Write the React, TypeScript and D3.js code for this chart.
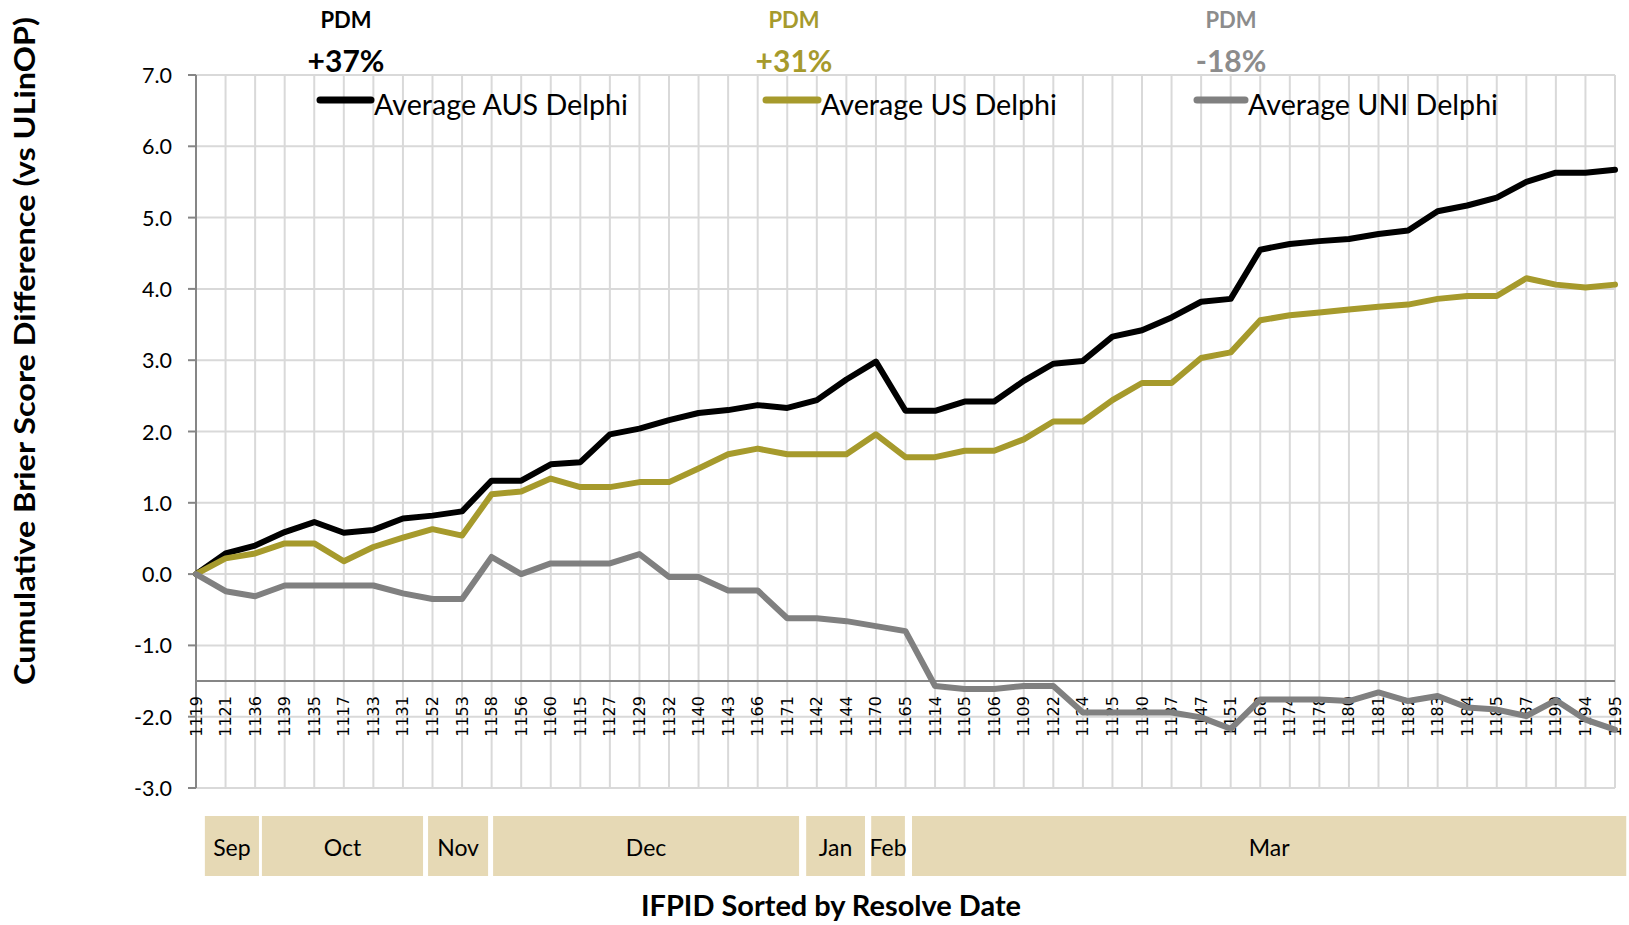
import React from "react";
import * as d3 from "d3";

const categories = ["1119","1121","1136","1139","1135","1117","1133","1131","1152","1153","1158","1156","1160","1115","1127","1129","1132","1140","1143","1166","1171","1142","1144","1170","1165","1114","1105","1106","1109","1122","1124","1125","1130","1137","1147","1151","1168","1174","1178","1180","1181","1182","1183","1184","1185","1187","1190","1194","1195"];

const ausValues = [0, 0.29, 0.40, 0.59, 0.73, 0.58, 0.62, 0.78, 0.82, 0.88, 1.31, 1.31, 1.54, 1.57, 1.96, 2.04, 2.16, 2.26, 2.30, 2.37, 2.33, 2.44, 2.73, 2.98, 2.29, 2.29, 2.42, 2.42, 2.71, 2.95, 2.99, 3.33, 3.42, 3.60, 3.82, 3.86, 4.55, 4.63, 4.67, 4.70, 4.77, 4.82, 5.09, 5.17, 5.28, 5.50, 5.63, 5.63, 5.67];
const usValues = [0, 0.22, 0.29, 0.43, 0.43, 0.18, 0.38, 0.51, 0.63, 0.54, 1.12, 1.16, 1.34, 1.22, 1.22, 1.29, 1.29, 1.48, 1.68, 1.76, 1.68, 1.68, 1.68, 1.96, 1.64, 1.64, 1.73, 1.73, 1.89, 2.14, 2.14, 2.44, 2.68, 2.68, 3.03, 3.11, 3.56, 3.63, 3.67, 3.71, 3.75, 3.78, 3.86, 3.90, 3.90, 4.15, 4.06, 4.02, 4.06];
const uniValues = [0, -0.24, -0.31, -0.16, -0.16, -0.16, -0.16, -0.27, -0.35, -0.35, 0.24, 0.0, 0.15, 0.15, 0.15, 0.28, -0.04, -0.04, -0.23, -0.23, -0.62, -0.62, -0.66, -0.73, -0.80, -1.57, -1.61, -1.61, -1.57, -1.57, -1.94, -1.94, -1.94, -1.94, -2.01, -2.17, -1.76, -1.76, -1.76, -1.78, -1.66, -1.78, -1.71, -1.87, -1.90, -1.99, -1.77, -2.04, -2.18];

const seriesNames = ["Average AUS Delphi", "Average US Delphi", "Average UNI Delphi"];
const seriesColors = ["#000000", "#A69A2C", "#808080"];
const pdmLabels = ["+37%", "+31%", "-18%"];
const pdmColors = ["#000000", "#A69A2C", "#8C8C8C"];

const yTicks = [7, 6, 5, 4, 3, 2, 1, 0, -1, -2, -3];

const months = ["Sep", "Oct", "Nov", "Dec", "Jan", "Feb", "Mar"];
const monthStart = [0.30, 2.23, 7.85, 10.05, 20.64, 22.84, 24.22];
const monthEnd = [2.13, 7.68, 9.88, 20.40, 22.63, 23.98, 48.38];

const CAL = "Lato, 'Open Sans', sans-serif";

export default function App() {
  const W = 1629, H = 925;
  const left = 196, right = 1615, top = 75, bottom = 788;
  const x = d3.scalePoint<string>().domain(categories).range([left, right]);
  const xi = d3.scaleLinear().domain([0, categories.length - 1]).range([left, right]);
  const y = d3.scaleLinear().domain([-3, 7]).range([bottom, top]);
  const axisY = y(-1.5);

  const line = d3.line<number>()
    .x((_, i) => x(categories[i]) as number)
    .y((d) => y(d));

  const allSeries = [ausValues, usValues, uniValues];

  const legendSwatch = [[320, 371], [766, 818], [1197, 1245]];
  const legendLen = [254, 236, 250];
  const pdmX = [346, 794, 1231];

  return (
    <svg width={W} height={H} style={{ position: "absolute", left: 0, top: 0, background: "#fff" }}>
      {yTicks.map((t) => (
        <line key={"hg" + t} x1={left} x2={right} y1={y(t)} y2={y(t)} stroke="#D9D9D9" strokeWidth={2} />
      ))}
      {categories.map((c) => (
        <line key={"vg" + c} x1={x(c)} x2={x(c)} y1={top} y2={bottom} stroke="#D9D9D9" strokeWidth={2} />
      ))}
      <line x1={left} x2={left} y1={top} y2={bottom} stroke="#868686" strokeWidth={2} />
      {yTicks.map((t) => (
        <g key={"yt" + t}>
          <line x1={left - 8} x2={left} y1={y(t)} y2={y(t)} stroke="#868686" strokeWidth={2} />
          <text x={172} y={y(t)} textAnchor="end" dominantBaseline="central" fontFamily={CAL} fontSize={21.5} fill="#000">
            {t.toFixed(1)}
          </text>
        </g>
      ))}
      <line x1={left} x2={right} y1={axisY} y2={axisY} stroke="#868686" strokeWidth={2} />
      {categories.map((c) => (
        <text key={"xl" + c} transform={`translate(${x(c)},${axisY + 15}) rotate(-90)`} textAnchor="end" dominantBaseline="central"
          fontFamily="'DejaVu Sans', sans-serif" fontSize={16} fill="#000">
          {c}
        </text>
      ))}
      {allSeries.map((s, k) => (
        <path key={"s" + k} d={line(s) as string} fill="none" stroke={seriesColors[k]} strokeWidth={6}
          strokeLinejoin="round" strokeLinecap="round" />
      ))}
      {seriesNames.map((n, k) => (
        <g key={"lg" + k}>
          <line x1={legendSwatch[k][0]} x2={legendSwatch[k][1]} y1={100} y2={100} stroke={seriesColors[k]} strokeWidth={7} strokeLinecap="round" />
          <text x={legendSwatch[k][1] + 3} y={103} dominantBaseline="central" fontFamily={CAL} fontSize={29}
            textLength={legendLen[k]} lengthAdjust="spacingAndGlyphs" fill="#000">
            {n}
          </text>
        </g>
      ))}
      {pdmLabels.map((p, k) => (
        <g key={"pdm" + k}>
          <text x={pdmX[k]} y={28} textAnchor="middle" fontFamily={CAL} fontWeight={700} fontSize={22} fill={pdmColors[k]}>PDM</text>
          <text x={pdmX[k]} y={72} textAnchor="middle" fontFamily={CAL} fontWeight={700} fontSize={30} fill={pdmColors[k]}>{p}</text>
        </g>
      ))}
      {months.map((m, k) => (
        <g key={"m" + m}>
          <rect x={xi(monthStart[k])} y={816} width={xi(monthEnd[k]) - xi(monthStart[k])} height={60} fill="#E6D9B5" />
          <text x={(xi(monthStart[k]) + xi(monthEnd[k])) / 2} y={847} textAnchor="middle" dominantBaseline="central"
            fontFamily={CAL} fontSize={23} fill="#000">
            {m}
          </text>
        </g>
      ))}
      <text x={831} y={916} textAnchor="middle" fontFamily={CAL} fontWeight={700} fontSize={29}
        textLength={380} lengthAdjust="spacingAndGlyphs" fill="#000">
        IFPID Sorted by Resolve Date
      </text>
      <text transform={`translate(35,351) rotate(-90)`} textAnchor="middle" fontFamily={CAL} fontWeight={700} fontSize={29}
        textLength={668} lengthAdjust="spacingAndGlyphs" fill="#000">
        Cumulative Brier Score Difference (vs ULinOP)
      </text>
    </svg>
  );
}
